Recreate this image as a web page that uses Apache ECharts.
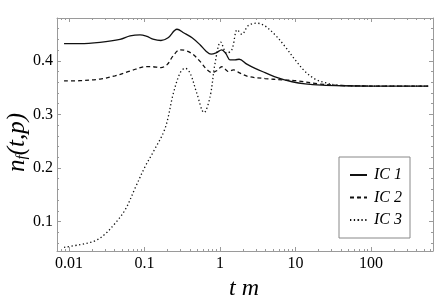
<!DOCTYPE html>
<html>
<head>
<meta charset="utf-8">
<script src="https://cdn.jsdelivr.net/npm/echarts@6/dist/echarts.min.js"></script>
<style>html,body{margin:0;padding:0;background:#fff}#c{width:436px;height:300px}</style>
</head>
<body>
<div id="c"></div>
<script>
// ---- data (t values, n_f values) ----
const ic1T = [0.00859,0.0140,0.0257,0.0473,0.0643,0.0871,0.108,0.129,0.165,0.205,0.269,0.333,0.426,0.543,0.653,0.760,0.886,1.053,1.2,1.356,1.58,1.79,2.26,2.91,3.94,5.86,8.99,13.4,22.4,41.3,97,569];
const ic1V = [0.432,0.432,0.4345,0.440,0.4465,0.4486,0.4455,0.4405,0.438,0.443,0.459,0.452,0.443,0.430,0.418,0.4125,0.415,0.4206,0.413,0.402,0.402,0.403,0.394,0.386,0.378,0.368,0.361,0.357,0.3546,0.3535,0.353,0.353];

const ic2T = [0.00859,0.0140,0.0257,0.0407,0.0643,0.107,0.129,0.165,0.199,0.238,0.295,0.355,0.439,0.543,0.667,0.784,0.912,1.053,1.2,1.29,1.50,1.84,2.37,3.94,6.62,10.8,19.9,41.3,97,569];
const ic2V = [0.3626,0.363,0.366,0.372,0.381,0.3894,0.389,0.3875,0.393,0.409,0.4206,0.419,0.412,0.399,0.384,0.378,0.382,0.389,0.383,0.380,0.383,0.377,0.3707,0.367,0.3645,0.3626,0.357,0.354,0.353,0.353];

const ic3T = [0.00859,0.0140,0.0221,0.030,0.0407,0.0552,0.0748,0.1016,0.131,0.187,0.241,0.295,0.344,0.401,0.491,0.614,0.738,0.859,1.02,1.227,1.43,1.69,1.94,2.37,3.06,3.94,5.35,7.26,9.84,13.4,18.1,24.6,33.4,52.7,97,569];
const ic3V = [0.0518,0.057,0.064,0.0766,0.0966,0.1215,0.162,0.2025,0.2305,0.274,0.3396,0.377,0.3863,0.377,0.34,0.3034,0.3333,0.3957,0.435,0.4144,0.4206,0.458,0.4495,0.466,0.4704,0.465,0.4486,0.4267,0.402,0.380,0.366,0.3594,0.355,0.3535,0.353,0.353];

const seriesNames = ['IC 1','IC 2','IC 3'];
const xMajorTicks = [0.01,0.1,1,10,100];
const xMajorLabels = ['0.01','0.1','1','10','100'];
const xMinorTicks = [0.007,0.008,0.009,0.02,0.03,0.04,0.05,0.06,0.07,0.08,0.09,0.2,0.3,0.4,0.5,0.6,0.7,0.8,0.9,2,3,4,5,6,7,8,9,20,30,40,50,60,70,80,90,200,300,400,500,600];
const yMajorTicks = [0.1,0.2,0.3,0.4];
const yMinorTicks = [0.06,0.08,0.12,0.14,0.16,0.18,0.22,0.24,0.26,0.28,0.32,0.34,0.36,0.38,0.42,0.44,0.46];

// ---- chart ----
const frame = '#9a9a9a';
const serif = '"Liberation Serif","DejaVu Serif",serif';
const xMin = 0.00693, xMax = 660, yMin = 0.045, yMax = 0.48;

function xAx(pos, ticks, len, labels, showLine) {
  return {
    type: 'log', logBase: 10, min: xMin, max: xMax, position: pos,
    axisLine: {show: showLine, lineStyle: {color: frame, width: 1}},
    axisTick: {show: true, inside: true, length: len, customValues: ticks, lineStyle: {color: frame, width: 1}},
    axisLabel: labels ? {show: true, customValues: xMajorTicks, margin: 5, color: '#000',
      fontFamily: serif, fontSize: 16,
      formatter: v => { const i = xMajorTicks.findIndex(m => Math.abs(Math.log10(m) - Math.log10(v)) < 1e-6); return i >= 0 ? xMajorLabels[i] : ''; }} : {show: false},
    splitLine: {show: false}, minorTick: {show: false}
  };
}
function yAx(pos, ticks, len, labels, showLine) {
  return {
    type: 'value', min: yMin, max: yMax, position: pos,
    axisLine: {show: showLine, onZero: false, lineStyle: {color: frame, width: 1}},
    axisTick: {show: true, inside: true, length: len, customValues: ticks, lineStyle: {color: frame, width: 1}},
    axisLabel: labels ? {show: true, customValues: yMajorTicks, margin: 4, color: '#000',
      fontFamily: serif, fontSize: 16, formatter: v => v.toFixed(1)} : {show: false},
    splitLine: {show: false}
  };
}

const xAxes = [xAx('bottom', xMajorTicks, 4, true, true), xAx('bottom', xMinorTicks, 2, false, false),
               xAx('top', xMajorTicks, 4, false, true), xAx('top', xMinorTicks, 2, false, false)];
xAxes[1].axisLine.onZero = false;
const yAxes = [yAx('left', yMajorTicks, 4, true, true), yAx('left', yMinorTicks, 2, false, false),
               yAx('right', yMajorTicks, 4, false, true), yAx('right', yMinorTicks, 2, false, false)];
xAxes.forEach(a => { a.axisLine.onZero = false; });

function pairs(t, v) { return t.map((x, i) => [x, v[i]]); }
const dashes = ['solid', [4, 3], [1.3, 2.5]];
const datasets = [pairs(ic1T, ic1V), pairs(ic2T, ic2V), pairs(ic3T, ic3V)];

const chart = echarts.init(document.getElementById('c'), null, {renderer: 'canvas'});
chart.setOption({
  animation: false,
  backgroundColor: '#fff',
  grid: {left: 57, right: 3, top: 18, bottom: 49, containLabel: false},
  xAxis: xAxes,
  yAxis: yAxes,
  legend: {
    orient: 'vertical', left: 339, top: 157, width: 81, height: 81,
    padding: [10, 8, 10, 10], itemGap: 6.5, itemWidth: 17, itemHeight: 2,
    borderColor: '#888', borderWidth: 1, backgroundColor: '#fff',
    textStyle: {fontFamily: serif, fontStyle: 'italic', fontSize: 16, color: '#000', padding: [0,0,0,2]},
    data: seriesNames
  },
  graphic: [
    {type: 'text', left: 229, top: 277, style: {text: 't m', font: 'italic 24px ' + serif, fill: '#000'}},
    {type: 'text', x: 4, y: 172, rotation: Math.PI / 2,
     style: {text: '{m|n}{s|f}{m|(t,p)}', fill: '#000',
       rich: {m: {font: 'italic 25px ' + serif, lineHeight: 26, verticalAlign: 'middle'},
              s: {font: 'italic 15px ' + serif, lineHeight: 10, verticalAlign: 'bottom'}}}}
  ],
  series: datasets.map((d, i) => ({
    name: seriesNames[i], type: 'line', xAxisIndex: 0, yAxisIndex: 0,
    data: d, showSymbol: false, symbol: 'none', smooth: 0.35,
    lineStyle: {color: '#111', width: 1.3, type: dashes[i], cap: 'butt'},
    itemStyle: {color: '#111'}
  }))
});
</script>
</body>
</html>
